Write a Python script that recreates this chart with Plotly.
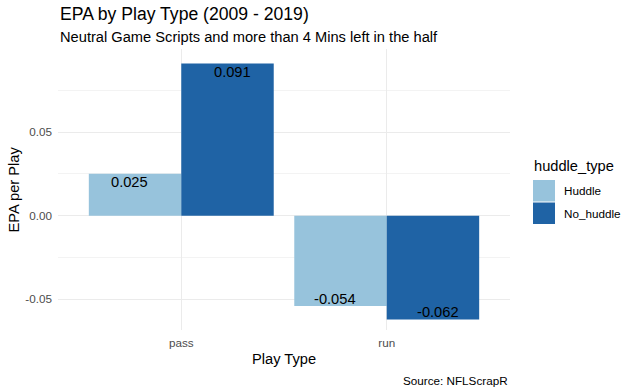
import plotly.graph_objects as go

play_types = ["pass", "run"]
huddle_epa = [0.025, -0.054]
no_huddle_epa = [0.091, -0.062]
series_names = ["Huddle", "No_huddle"]
colors = ["#97C3DC", "#1F63A5"]
y_ticks = [-0.05, 0.0, 0.05]
y_tick_labels = ["-0.05", "0.00", "0.05"]

FONT = "Liberation Sans, Arial, sans-serif"
xpos = list(range(len(play_types)))

fig = go.Figure()
for name, vals, col in zip(series_names, [huddle_epa, no_huddle_epa], colors):
    fig.add_trace(go.Bar(
        x=xpos, y=vals, name=name, marker=dict(color=col, line=dict(width=0)),
        showlegend=False, hoverinfo="skip",
    ))

annotations = []
# value labels (dodged with width 1, as in ggplot position_dodge(1))
for k, vals in enumerate([huddle_epa, no_huddle_epa]):
    off = -0.25 if k == 0 else 0.25
    for p, v in zip(xpos, vals):
        annotations.append(dict(
            x=p + off, y=v, xref="x", yref="y", text=f"{v:.3f}", showarrow=False,
            xanchor="center", yanchor="middle", yshift=-8.5 if v > 0 else 7,
            font=dict(family=FONT, size=14.67, color="black"),
        ))

# legend drawn as ggplot-style keys
pw, ph = 452.0, 281.0
def px_x(px):
    return (px - 58) / pw
def px_y(py):
    return (330 - py) / ph

shapes = []
key_tops = [180, 202.5]
for name, col, top in zip(series_names, colors, key_tops):
    shapes.append(dict(type="rect", xref="paper", yref="paper",
                       x0=px_x(533), x1=px_x(555), y0=px_y(top + 21.5), y1=px_y(top),
                       fillcolor=col, line=dict(width=0)))
    annotations.append(dict(text=name, xref="paper", yref="paper", x=px_x(562), y=px_y(top + 11),
                            xanchor="left", yanchor="middle", showarrow=False,
                            font=dict(size=11.7, color="black")))
annotations.append(dict(text="huddle_type", xref="paper", yref="paper", x=px_x(532), y=px_y(166),
                        xanchor="left", yanchor="middle", showarrow=False,
                        font=dict(size=14.67, color="black")))

annotations += [
    dict(text="EPA by Play Type (2009 - 2019)", xref="paper", yref="paper", x=0, y=1,
         xanchor="left", yanchor="middle", yshift=35.5, showarrow=False,
         font=dict(size=17.6, color="black")),
    dict(text="Neutral Game Scripts and more than 4 Mins left in the half", xref="paper", yref="paper",
         x=0, y=1, xanchor="left", yanchor="middle", yshift=12, showarrow=False,
         font=dict(size=14.67, color="black")),
    dict(text="Play Type", xref="paper", yref="paper", x=0.5, y=0,
         xanchor="center", yanchor="middle", yshift=-29, showarrow=False,
         font=dict(size=14.67, color="black")),
    dict(text="EPA per Play", xref="paper", yref="paper", x=0, y=0.5, textangle=-90,
         xanchor="center", yanchor="middle", xshift=-45, showarrow=False,
         font=dict(size=14.67, color="black")),
    dict(text="Source: NFLScrapR", xref="paper", yref="paper", x=1, y=0,
         xanchor="right", yanchor="middle", yshift=-50, showarrow=False,
         font=dict(size=11.7, color="black")),
]

fig.update_layout(
    width=634, height=392,
    margin=dict(l=58, r=124, t=49, b=62, autoexpand=False),
    paper_bgcolor="white", plot_bgcolor="white",
    barmode="group", bargap=0.1, bargroupgap=0,
    font=dict(family=FONT, color="black"),
    showlegend=False,
    xaxis=dict(
        range=[-0.6, 1.6], tickvals=xpos, ticktext=play_types,
        showgrid=True, gridcolor="#EBEBEB", gridwidth=1.1,
        zeroline=False, showline=False, ticks="", automargin=False, ticklabelstandoff=4,
        tickfont=dict(size=11.7, color="#4D4D4D"),
    ),
    yaxis=dict(
        range=[-0.0683, 0.0996], tickvals=y_ticks, ticktext=y_tick_labels,
        showgrid=True, gridcolor="#EBEBEB", gridwidth=1.1,
        zeroline=False, showline=False, ticks="", automargin=False, ticklabelstandoff=5,
        minor=dict(tickvals=[-0.025, 0.025, 0.075], showgrid=True, gridcolor="#F3F3F3", gridwidth=0.6),
        tickfont=dict(size=11.7, color="#4D4D4D"),
    ),
    shapes=shapes,
    annotations=annotations,
)

fig.write_html("out.html", config={"displayModeBar": False},
               post_script="document.body.style.margin='0';document.body.style.padding='0';")
